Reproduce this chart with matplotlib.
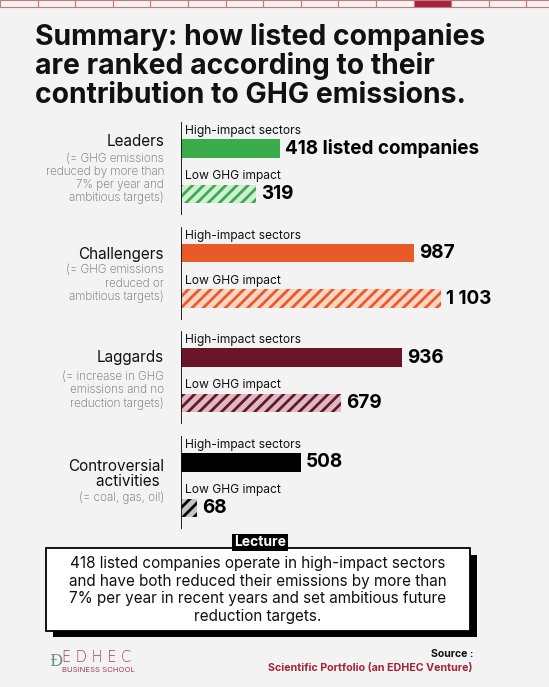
import matplotlib
matplotlib.use("Agg")
import matplotlib.pyplot as plt
from matplotlib.patches import Rectangle

W, H = 549, 687
plt.rcParams['font.family'] = ['Inter', 'DejaVu Sans']
plt.rcParams['hatch.linewidth'] = 2.0

# data
groups = ["Leaders", "Challengers", "Laggards", "Controversial\nactivities "]
notes = ["(= GHG emissions\nreduced by more than\n7% per year and\nambitious targets)",
         "(= GHG emissions\nreduced or\nambitious targets)",
         "(= increase in GHG\nemissions and no\nreduction targets)",
         "(= coal, gas, oil)"]
high_impact = [418, 987, 936, 508]
low_impact = [319, 1103, 679, 68]
high_labels = ["418 listed companies", "987", "936", "508"]
low_labels = ["319", "1 103", "679", "68"]
colors = ["#3aac4b", "#e85a28", "#6b1529", "#000000"]
tints = ["#d2eed5", "#fbd6c7", "#dcbcc4", "#c4c4c4"]

bg = "#f3f3f3"
fig = plt.figure(figsize=(W / 100, H / 100), dpi=100, facecolor=bg)


def fx(px):
    return px / W


def fy(py):
    return 1 - py / H


# top decorative strip
for i in range(15):
    x0 = i * 37.6
    fill = "#a3243b" if i == 11 else "none"
    fig.patches.append(Rectangle((fx(x0), fy(7)), 37.6 / W, 7 / H, transform=fig.transFigure,
                                 facecolor=fill, edgecolor="#c97583", linewidth=0.8))

# title
fig.text(fx(35), fy(23), "Summary: how listed companies\nare ranked according to their\ncontribution to GHG emissions.",
         fontsize=20.4, fontweight="bold", va="top", ha="left", linespacing=1.06, color="#111111")

# bar axes: x in company counts, y in pixel rows
ax = fig.add_axes([fx(181), fy(540), 1 - fx(181), (540 - 120) / H])
ax.set_facecolor("none")
scale = 0.236  # px per company
ax.set_xlim(0, (W - 181) / scale)
ax.set_ylim(540, 120)
ax.axis("off")

gap = 104.6
for i in range(len(groups)):
    yh = 148.5 + i * gap
    yl = yh + 45.5
    ax.barh(yh, high_impact[i], height=18.5, color=colors[i], linewidth=0)
    ax.barh(yl, low_impact[i], height=18.5, color=tints[i], edgecolor=colors[i],
            hatch="///", linewidth=0)
    ax.vlines(0, yh - 26.5, yl + 21, color="#111111", linewidth=1.3)
    ax.text(17, yh - 17.5, "High-impact sectors", fontsize=8.7, va="center", color="#111111")
    ax.text(17, yl - 18, "Low GHG impact", fontsize=8.7, va="center", color="#111111")
    ax.text(high_impact[i] + 21, yh, high_labels[i], fontsize=13.6, fontweight="bold",
            va="center", color="#000000")
    ax.text(low_impact[i] + 21, yl, low_labels[i], fontsize=13.6, fontweight="bold",
            va="center", color="#000000")

# category labels
cat_y = [141.7, 254, 357.7, 474]
note_y = [159, 271, 377.7, 498]
for i in range(len(groups)):
    fig.text(fx(164), fy(cat_y[i]), groups[i], fontsize=11, ha="right", va="center",
             color="#111111", linespacing=0.95)
    fig.text(fx(164), fy(note_y[i] - 6.5), notes[i], fontsize=8.4, ha="right", va="top",
             color="#666666", fontweight="light", linespacing=1.12)

# lecture box
fig.patches.append(Rectangle((fx(53), fy(637)), (477 - 53) / W, (637 - 555) / H,
                             transform=fig.transFigure, facecolor="#000000", edgecolor="none"))
fig.patches.append(Rectangle((fx(46), fy(631)), (470 - 46) / W, (631 - 548) / H,
                             transform=fig.transFigure, facecolor="white", edgecolor="#000000",
                             linewidth=1.3))
fig.text(fx(260), fy(542.5), "Lecture", fontsize=10, fontweight="bold", color="white",
         ha="center", va="center",
         bbox=dict(facecolor="black", edgecolor="none", boxstyle="square,pad=0.12"))
fig.text(fx(258), fy(590), "418 listed companies operate in high-impact sectors\n"
         "and have both reduced their emissions by more than\n"
         "7% per year in recent years and set ambitious future\n"
         "reduction targets.", fontsize=11, ha="center", va="center",
         color="#111111", linespacing=1.22)

# source
fig.text(fx(473), fy(654), "Source :", fontsize=7.6, fontweight="bold", ha="right",
         va="center", color="#111111")
fig.text(fx(473), fy(667.5), "Scientific Portfolio (an EDHEC Venture)", fontsize=7.7,
         fontweight="bold", ha="right", va="center", color="#a3243b")

# logo
fig.text(fx(62), fy(657), "E D H E C", fontsize=10.5, ha="left", va="center", color="#a8404e",
         fontfamily="DejaVu Sans", fontweight="light")
fig.text(fx(62), fy(670), "BUSINESS SCHOOL", fontsize=5.6, ha="left", va="center",
         color="#a8404e")
fig.text(fx(49), fy(662), "Ɖ", fontsize=12, ha="left", va="center", color="#6f8a8a",
         fontfamily="DejaVu Serif")

fig.savefig("out.png", dpi=100, facecolor=bg)
